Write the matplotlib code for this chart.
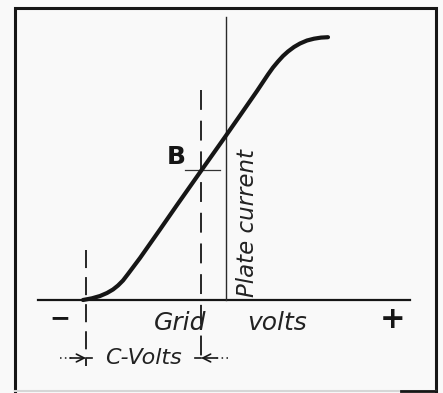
import matplotlib
matplotlib.use("Agg")
import matplotlib.pyplot as plt

# Characteristic curve: grid volts (arbitrary units) vs plate current (arbitrary units)
grid_volts = [-14.3, -13.4, -12.6, -11.9, -11.3, -10.8, -10.3, -9.8, -9.2, -8.6, -6.6, -4.9,
              -2.4, -0.1, 1.4, 3.1, 3.7, 4.2, 4.7, 5.2, 5.7, 6.2, 6.8, 7.4, 8.1, 8.8, 9.5, 10.2]
plate_current = [0.0, 0.17, 0.4, 0.7, 1.05, 1.45, 1.95, 2.6, 3.4, 4.2, 7.05, 9.5,
                 13.05, 16.3, 18.45, 20.9, 21.8, 22.55, 23.25, 23.85, 24.4, 24.85, 25.3,
                 25.65, 25.95, 26.13, 26.24, 26.28]

cutoff_bias = -14.0      # left dashed line (curve foot)
operating_bias = -2.5    # dashed line through B
point_b_current = 13.0

x_axis_label = ["Grid", "volts"]
y_axis_label = "Plate current"
bias_label = "C-Volts"
point_label = "B"

ink = "#161616"
bg = "#f9f9f9"

fig = plt.figure(figsize=(4.43, 3.93), dpi=100, facecolor=bg)
ax = fig.add_axes([0, 0, 1, 1])
ax.set_facecolor(bg)
ax.set_xlim(-22.6, 21.7)
ax.set_ylim(-9.3, 30.0)
ax.axis("off")

# frame
ax.plot([-21.1, -21.1, 21.0, 21.0], [-9.3, 29.2, 29.2, -9.3], color=ink, lw=2.2,
        solid_joinstyle="miter")
ax.plot([-21.1, 21.0], [-9.1, -9.1], color="#d6d6d6", lw=1.5)
ax.plot([17.5, 21.0], [-9.1, -9.1], color=ink, lw=2.0)

# axes lines
ax.plot([-18.8, 18.4], [0, 0], color=ink, lw=1.6)
ax.plot([0, 0], [0, 28.3], color="#2a2a2a", lw=1.0)

# dashed reference lines
ax.plot([cutoff_bias, cutoff_bias], [5.0, -6.6], color=ink, lw=1.3,
        dashes=(10, 5))
ax.plot([operating_bias, operating_bias], [21.0, -6.6], color=ink, lw=1.3,
        dashes=(11, 6))

# B tick
ax.plot([operating_bias - 1.6, operating_bias + 1.9], [point_b_current, point_b_current],
        color="#333333", lw=0.9)
ax.text(-5.0, 14.3, point_label, fontsize=18, fontweight="bold", color=ink,
        ha="center", va="center")

# characteristic curve
ax.plot(grid_volts, plate_current, color=ink, lw=3.0, solid_capstyle="round",
        solid_joinstyle="round")

# axis texts
ax.text(-16.6, -1.8, "\u2212", fontsize=18, fontweight="bold", color=ink,
        ha="center", va="center")
ax.text(16.7, -2.0, "+", fontsize=22, fontweight="bold", color=ink,
        ha="center", va="center")
ax.text(-4.6, -2.3, x_axis_label[0], fontsize=18, style="italic", color="#222222",
        ha="center", va="center")
ax.text(5.1, -2.3, x_axis_label[1], fontsize=18, style="italic", color="#222222",
        ha="center", va="center")
ax.text(1.0, 0.3, y_axis_label, fontsize=16.5, style="italic", color="#222222",
        rotation=90, rotation_mode="anchor", ha="left", va="top")

# C-volts dimension
row = -5.8
ax.text(-8.25, row, bias_label, fontsize=16, style="italic", color="#222222",
        ha="center", va="center")
ax.plot([-16.6, -15.3], [row, row], color=ink, lw=1.1, linestyle=(0, (1, 2.2)))
ax.plot([0.2, -1.2], [row, row], color=ink, lw=1.1, linestyle=(0, (1, 2.2)))
ax.annotate("", xy=(cutoff_bias, row), xytext=(-15.6, row),
            arrowprops=dict(arrowstyle="->", color=ink, lw=1.2, mutation_scale=14,
                            shrinkA=0, shrinkB=0))
ax.annotate("", xy=(operating_bias, row), xytext=(-0.9, row),
            arrowprops=dict(arrowstyle="->", color=ink, lw=1.2, mutation_scale=14,
                            shrinkA=0, shrinkB=0))
ax.plot([cutoff_bias, cutoff_bias + 0.6], [row, row], color=ink, lw=1.2)
ax.plot([operating_bias - 0.6, operating_bias], [row, row], color=ink, lw=1.2)

fig.savefig("out.png", dpi=100, facecolor=bg)
